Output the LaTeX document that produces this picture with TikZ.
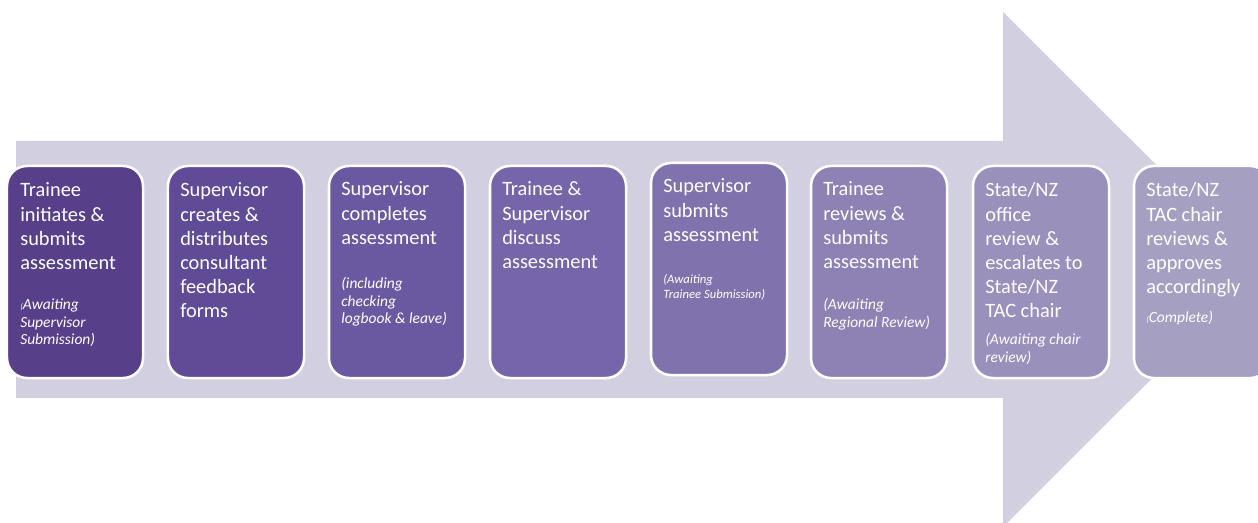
\documentclass[tikz,border=0pt]{standalone}
\usepackage{fontspec}
\setmainfont{Carlito}
\usetikzlibrary{positioning}
\definecolor{arrowgrey}{RGB}{209,207,224}
\definecolor{stageA}{RGB}{87,64,137}
\definecolor{stageB}{RGB}{95,75,150}
\definecolor{stageC}{RGB}{106,88,161}
\definecolor{stageD}{RGB}{118,101,168}
\definecolor{stageE}{RGB}{128,114,172}
\definecolor{stageF}{RGB}{142,130,180}
\definecolor{stageG}{RGB}{153,144,187}
\definecolor{stageH}{RGB}{165,160,194}
\def\stagelines#1{\parbox[t]{3.4cm}{\raggedright #1}}
\tikzset{
  stagebox/.style={draw=white, line width=1.8pt, rounded corners=0.5cm,
    minimum width=3.4cm, minimum height=5.3cm, inner sep=0pt},
  stagetitle/.style={anchor=base west, inner sep=0pt, text=white,
    font=\fontsize{14.5}{17.1}\selectfont},
  stagenote/.style={anchor=base west, inner sep=0pt, text=white,
    font=\itshape\fontsize{11}{12.1}\selectfont},
}

\begin{document}
\begin{tikzpicture}[x=0.025cm, y=-0.025cm]
  %%%%% START %%%%%
  \useasboundingbox (0, 0) rectangle (1258, 523);
  \clip (0, 0) rectangle (1258, 523);

  \fill[arrowgrey] (16, 141) -- (1003, 141) -- (1003, 12) -- (1261, 269.5)
    -- (1003, 527) -- (1003, 398) -- (16, 398) -- cycle;

  \node[stagebox, fill=stageA] (step1) at (75, 272) {};
  \node[stagetitle] (step1title) at (20, 197) {\stagelines{Trainee\\initiates \&\\submits\\assessment}};
  \node[stagenote] (step1note) at (20, 310) {\stagelines{{\fontsize{6}{7}\selectfont(}Awaiting\\Supervisor\\Submission)}};

  \node[stagebox, fill=stageB] (step2) at (236, 272) {};
  \node[stagetitle] (step2title) at (180, 197) {\stagelines{Supervisor\\creates \&\\distributes\\consultant\\feedback\\forms}};

  \node[stagebox, fill=stageC] (step3) at (397, 272) {};
  \node[stagetitle] (step3title) at (341, 196) {\stagelines{Supervisor\\completes\\assessment}};
  \node[stagenote] (step3note) at (341, 289) {\stagelines{(including\\checking\\logbook \& leave)}};

  \node[stagebox, fill=stageD] (step4) at (558, 272) {};
  \node[stagetitle] (step4title) at (502, 196) {\stagelines{Trainee \&\\Supervisor\\discuss\\assessment}};

  \node[stagebox, fill=stageE] (step5) at (719, 269) {};
  \node[stagetitle] (step5title) at (663, 193) {\stagelines{Supervisor\\submits\\assessment}};
  \node[stagenote, font=\itshape\fontsize{9}{10.2}\selectfont] (step5note) at (663, 284) {\stagelines{(Awaiting\\Trainee Submission)}};

  \node[stagebox, fill=stageF] (step6) at (879, 272) {};
  \node[stagetitle] (step6title) at (823, 196) {\stagelines{Trainee\\reviews \&\\submits\\assessment}};
  \node[stagenote] (step6note) at (823, 310) {\stagelines{(Awaiting\\Regional Review)}};

  \node[stagebox, fill=stageG] (step7) at (1041, 272) {};
  \node[stagetitle] (step7title) at (985, 197) {\stagelines{State/NZ\\office\\review \&\\escalates to\\State/NZ\\TAC chair}};
  \node[stagenote] (step7note) at (985, 345) {\stagelines{(Awaiting chair\\review)}};

  \node[stagebox, fill=stageH] (step8) at (1202, 272) {};
  \node[stagetitle] (step8title) at (1146, 197) {\stagelines{State/NZ\\TAC chair\\reviews \&\\approves\\accordingly}};
  \node[stagenote] (step8note) at (1146, 323) {\stagelines{{\fontsize{6}{7}\selectfont(}Complete)}};

  %%%%% END %%%%%
\end{tikzpicture}
\end{document}
